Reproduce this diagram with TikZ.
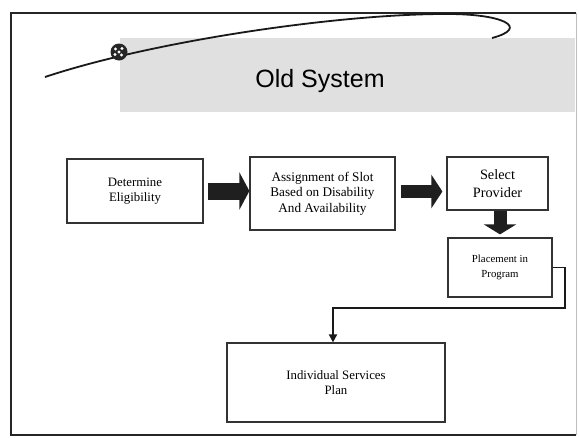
\documentclass[tikz,border=0pt]{standalone}
\usepackage{fontspec}
\setmainfont{Liberation Serif}
\newfontfamily\titlefont{Liberation Sans}
\usetikzlibrary{arrows.meta}
\begin{document}
\begin{tikzpicture}[x=1pt,y=-1pt,
  box/.style={draw=black!80, line width=1.2pt, fill=white, align=center,
    font=\fontsize{12.8}{15.5}\selectfont, inner sep=0pt},
  blockarr/.style={draw=black!88, line width=#1},
  conn/.style={draw=black!90, line width=1.8pt, -{Triangle[length=8pt,width=8pt]}}]
\useasboundingbox (0,0) rectangle (579,437);
\fill[white] (0,0) rectangle (579,437);
% title band
\fill[black!12] (120,38) rectangle (575,112);
% frame
\draw[black!25, line width=0.8pt] (576,13) -- (576,435);
\draw[black!85, line width=1.8pt] (576,13) -- (11,13) -- (11,435) -- (576,435);
% swoosh
\draw[black!90, line width=1.8pt] (45,77) .. controls (150,42) and (330,15) .. (440,14)
  .. controls (505,13) and (530,28) .. (492,38);
\fill[black!85] (119,52) circle (8.5);
\foreach \dx/\dy in {-3.5/-3, 3/-3.5, -4/2.5, 2.5/3, 0/0}
  \fill[white] (119+\dx,52+\dy) circle (1.6);
% title
\node[font=\titlefont\fontsize{25}{30}\selectfont, anchor=base] (title) at (320,87) {Old System};
% boxes
\node[box, minimum width=136pt, minimum height=64pt] (elig) at (135,191) {Determine\\Eligibility};
\node[box, minimum width=145pt, minimum height=73pt, font=\fontsize{13.2}{15.5}\selectfont] (assign) at (322.5,193.5) {Assignment of Slot\\Based on Disability\\And Availability};
\node[box, minimum width=101pt, minimum height=53pt, font=\fontsize{14.3}{18}\selectfont] (select) at (497.5,183.5) {Select\\Provider};
\node[box, minimum width=104pt, minimum height=59pt, font=\fontsize{10.8}{15}\selectfont] (place) at (500,267.5) {Placement in\\Program};
\node[box, minimum width=218pt, minimum height=79pt] (isp) at (336,382.5) {Individual Services\\Plan};
% block arrows
\draw[blockarr=17pt, -{Triangle[length=10pt,width=37pt]}, shorten <=4pt]
  (elig.east) -- (elig.east -| assign.west);
\draw[blockarr=13pt, -{Triangle[length=11pt,width=33pt]}, shorten <=5pt, shorten >=4pt]
  ([yshift=2pt]assign.east) -- ([yshift=2pt]assign.east -| select.west);
\draw[blockarr=13pt, -{Triangle[length=10pt,width=32pt]}, shorten >=3pt]
  (select.south -| place.north) -- (place.north);
% connector
\coordinate (c1) at (565,308);
\draw[conn] (place.east) -| (c1) -| ([xshift=-3pt]isp.north);
\end{tikzpicture}
\end{document}
